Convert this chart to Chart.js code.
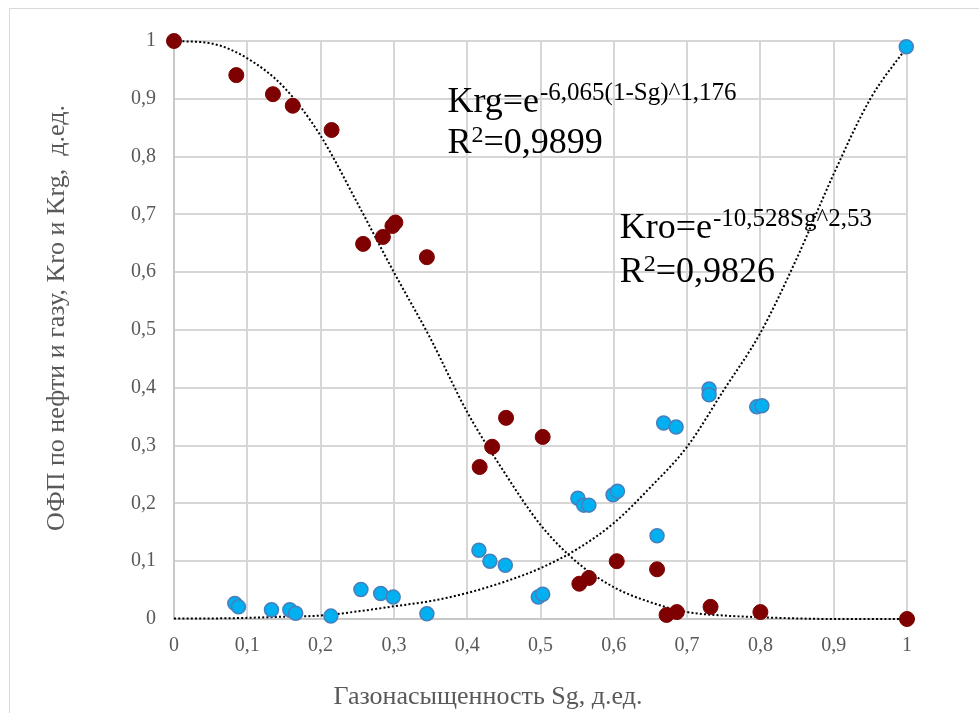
<!DOCTYPE html>
<html>
<head>
<meta charset="utf-8">
<script src="https://cdn.jsdelivr.net/npm/chart.js@4.4.1/dist/chart.umd.min.js"></script>
<style>
    html, body { margin: 0; padding: 0; background: #ffffff; }
    #wrap { width: 979px; height: 713px; position: relative; }
</style>
</head>
<body>
<div id="wrap"><canvas id="kChart"></canvas></div>
<script>
// Kro points (oil)
const sgOil = [0, 0.085, 0.135, 0.162, 0.215, 0.258, 0.285, 0.298, 0.302, 0.345, 0.417, 0.434, 0.453, 0.503, 0.553, 0.566, 0.604, 0.659, 0.672, 0.686, 0.732, 0.800, 1.0];
const kro = [1.0, 0.941, 0.908, 0.888, 0.846, 0.649, 0.661, 0.680, 0.686, 0.626, 0.263, 0.298, 0.348, 0.315, 0.061, 0.071, 0.100, 0.086, 0.007, 0.012, 0.021, 0.012, 0.0];

// Krg points (gas)
const sgGas = [0.083, 0.088, 0.133, 0.158, 0.166, 0.214, 0.255, 0.282, 0.299, 0.345, 0.416, 0.431, 0.452, 0.497, 0.503, 0.551, 0.559, 0.566, 0.599, 0.605, 0.659, 0.668, 0.685, 0.730, 0.730, 0.795, 0.802, 0.999];
const krg = [0.027, 0.021, 0.016, 0.016, 0.010, 0.005, 0.051, 0.044, 0.038, 0.009, 0.119, 0.100, 0.093, 0.038, 0.043, 0.209, 0.197, 0.197, 0.215, 0.221, 0.144, 0.339, 0.332, 0.398, 0.388, 0.367, 0.369, 0.990];

// dotted trend curves
const trendSg = [0, 0.05, 0.1, 0.15, 0.2, 0.25, 0.3, 0.35, 0.4, 0.45, 0.5, 0.55, 0.6, 0.65, 0.7, 0.75, 0.8, 0.85, 0.9, 0.95, 1.0];
const kroTrend = [1.0, 0.996, 0.97, 0.92, 0.836, 0.72, 0.6, 0.485, 0.358, 0.255, 0.163, 0.098, 0.055, 0.029, 0.012, 0.006, 0.003, 0.001, 0.0, 0.0, 0.0];
const krgTrend = [0.001, 0.001, 0.002, 0.004, 0.006, 0.013, 0.022, 0.031, 0.045, 0.064, 0.088, 0.121, 0.166, 0.228, 0.298, 0.396, 0.495, 0.625, 0.77, 0.90, 0.99];

const xTicks = [0, 0.1, 0.2, 0.3, 0.4, 0.5, 0.6, 0.7, 0.8, 0.9, 1];
const yTicks = [0, 0.1, 0.2, 0.3, 0.4, 0.5, 0.6, 0.7, 0.8, 0.9, 1];

const xTitle = 'Газонасыщенность Sg, д.ед.';
const yTitle = 'ОФП по нефти и газу, Kro и Krg,  д.ед.';

const zip = (xs, ys) => xs.map((x, i) => ({ x: x, y: ys[i] }));
const fmt = v => String(Math.round(v * 10) / 10).replace('.', ',');

const serif = '"Liberation Serif", "Times New Roman", serif';
Chart.defaults.font.family = serif;

// frame, axis titles and the two trendline equations
const extras = {
    id: 'extras',
    beforeDraw(chart) {
        const ctx = chart.ctx;
        ctx.save();
        ctx.fillStyle = '#ffffff';
        ctx.fillRect(0, 0, chart.width, chart.height);
        ctx.strokeStyle = '#d9d9d9';
        ctx.lineWidth = 1;
        ctx.strokeRect(9.5, 8.5, 1200, 1200);
        ctx.restore();
    },
    afterDraw(chart) {
        const ctx = chart.ctx;
        const xs = chart.scales.x, ys = chart.scales.y;
        ctx.save();
        ctx.fillStyle = '#595959';
        ctx.font = '26px ' + serif;
        ctx.textAlign = 'center';
        ctx.textBaseline = 'alphabetic';
        ctx.fillText(xTitle, 488, 704);
        ctx.translate(64, 318);
        ctx.rotate(-Math.PI / 2);
        ctx.fillText(yTitle, 0, 0);
        ctx.restore();

        const eq = (x, y, main, sup) => {
            ctx.save();
            ctx.fillStyle = '#000000';
            ctx.textAlign = 'left';
            ctx.textBaseline = 'alphabetic';
            ctx.font = '36px ' + serif;
            const px = xs.getPixelForValue(x), py = ys.getPixelForValue(y);
            ctx.fillText(main, px, py);
            const w = ctx.measureText(main).width;
            ctx.font = '25px ' + serif;
            ctx.fillText(sup, px + w + 1, py - 12);
            ctx.restore();
        };
        const r2 = (x, y, val) => {
            ctx.save();
            ctx.fillStyle = '#000000';
            ctx.textAlign = 'left';
            ctx.textBaseline = 'alphabetic';
            const px = xs.getPixelForValue(x), py = ys.getPixelForValue(y);
            ctx.font = '36px ' + serif;
            ctx.fillText('R', px, py);
            const wR = ctx.measureText('R').width;
            ctx.font = '24px ' + serif;
            ctx.fillText('2', px + wR, py - 11);
            const w2 = ctx.measureText('2').width;
            ctx.font = '36px ' + serif;
            ctx.fillText('=' + val, px + wR + w2, py);
            ctx.restore();
        };
        eq(0.373, 0.877, 'Krg=e', '-6,065(1-Sg)^1,176');
        r2(0.373, 0.806, '0,9899');
        eq(0.608, 0.659, 'Kro=e', '-10,528Sg^2,53');
        r2(0.608, 0.583, '0,9826');
    }
};

const trendStyle = {
    showLine: true,
    pointRadius: 0,
    borderColor: '#000000',
    borderWidth: 2,
    borderDash: [2, 2.2],
    cubicInterpolationMode: 'monotone',
    clip: false,
    order: 2
};

new Chart(document.getElementById('kChart'), {
    type: 'scatter',
    data: {
        datasets: [
            {
                label: 'Kro',
                data: zip(sgOil, kro),
                backgroundColor: '#7f0000',
                borderColor: '#7f0000',
                borderWidth: 1,
                pointRadius: 7.5,
                clip: false,
                order: 1
            },
            {
                label: 'Krg',
                data: zip(sgGas, krg),
                backgroundColor: '#00b0f0',
                borderColor: '#4a7ebb',
                borderWidth: 1.5,
                pointRadius: 7,
                clip: false,
                order: 1
            },
            Object.assign({ label: 'Kro trend', data: zip(trendSg, kroTrend) }, trendStyle),
            Object.assign({ label: 'Krg trend', data: zip(trendSg, krgTrend) }, trendStyle)
        ]
    },
    options: {
        responsive: true,
        maintainAspectRatio: false,
        animation: false,
        layout: {
            padding: { left: 0, top: 41, right: 72, bottom: 0 }
        },
        plugins: {
            legend: { display: false },
            tooltip: { enabled: false }
        },
        scales: {
            x: {
                type: 'linear',
                min: 0,
                max: 1,
                afterFit: scale => { scale.height = 94; },
                afterBuildTicks: scale => { scale.ticks = xTicks.map(v => ({ value: v })); },
                grid: {
                    color: '#d6d6d6',
                    lineWidth: 2,
                    drawTicks: false
                },
                border: { color: '#c8c8c8', width: 2 },
                ticks: {
                    color: '#595959',
                    font: { size: 20 },
                    padding: 15,
                    maxRotation: 0,
                    callback: v => fmt(v)
                }
            },
            y: {
                type: 'linear',
                min: 0,
                max: 1,
                afterFit: scale => { scale.width = 174; },
                afterBuildTicks: scale => { scale.ticks = yTicks.map(v => ({ value: v })); },
                grid: {
                    color: '#d6d6d6',
                    lineWidth: 2,
                    drawTicks: false
                },
                border: { color: '#c8c8c8', width: 2 },
                ticks: {
                    color: '#595959',
                    font: { size: 20 },
                    padding: 18,
                    callback: v => fmt(v)
                }
            }
        }
    },
    plugins: [extras]
});
</script>
</body>
</html>
